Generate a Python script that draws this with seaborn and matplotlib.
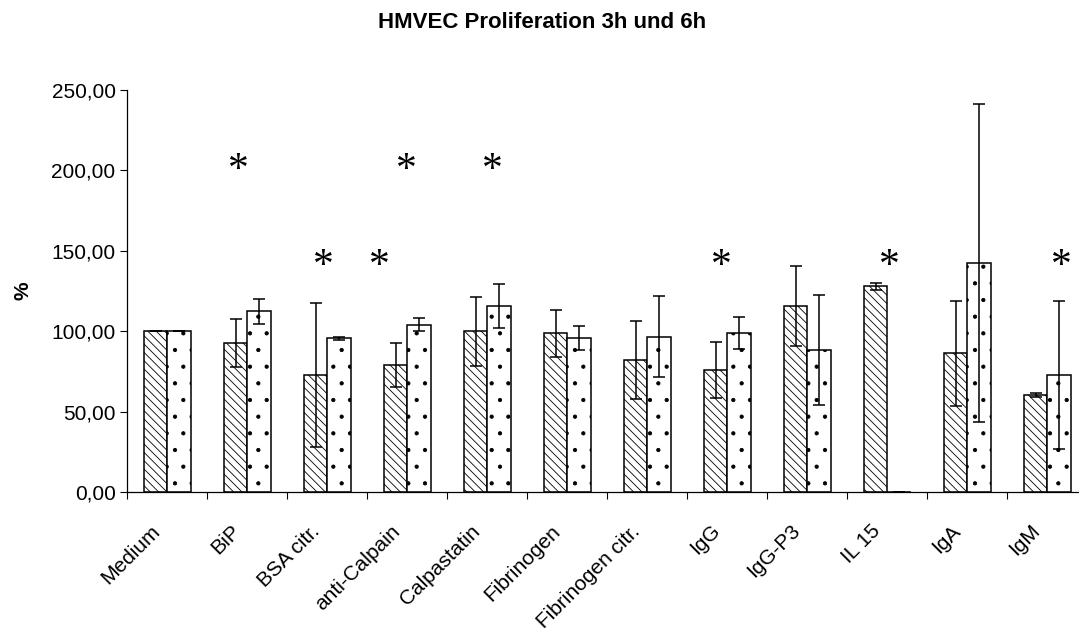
import numpy as np
import pandas as pd
import matplotlib
matplotlib.use("Agg")
import matplotlib.pyplot as plt
import matplotlib.transforms as mtransforms
import seaborn as sns
from matplotlib.ticker import FuncFormatter, FixedLocator

# Werte (% der Kontrolle)
gruppen = ["Medium", "BiP", "BSA citr.", "anti-Calpain", "Calpastatin", "Fibrinogen",
           "Fibrinogen citr.", "IgG", "IgG-P3", "IL 15", "IgA", "IgM"]
wert_3h = [100.0, 92.5, 72.7, 79.0, 100.0, 98.7, 82.1, 75.9, 115.5, 128.0, 86.2, 60.3]
sd_3h = [0.0, 15.0, 45.0, 13.4, 21.4, 14.6, 24.2, 17.4, 25.0, 2.1, 32.8, 1.0]
wert_6h = [100.0, 112.4, 95.6, 104.0, 115.5, 95.6, 96.6, 98.7, 88.3, 0.0, 142.6, 72.8]
sd_6h = [0.0, 7.9, 1.0, 4.0, 13.8, 7.4, 25.0, 9.9, 34.0, 0.0, 98.9, 46.0]

# Signifikanz-Sterne (x in Kategorie-Einheiten, y in %)
stern_x = [0.89, 1.95, 2.65, 2.99, 4.06, 6.93, 9.03, 11.17]
stern_y = [200, 140, 140, 200, 200, 140, 140, 140]

df = pd.DataFrame({
    "Gruppe": gruppen * 2,
    "Zeit": ["3h"] * len(gruppen) + ["6h"] * len(gruppen),
    "Wert": wert_3h + wert_6h,
})

sns.set_style("white")
plt.rcParams["font.family"] = ["Liberation Sans", "DejaVu Sans"]
plt.rcParams["text.color"] = "black"
plt.rcParams["axes.labelcolor"] = "black"
plt.rcParams["xtick.color"] = "black"
plt.rcParams["ytick.color"] = "black"
plt.rcParams["hatch.linewidth"] = 0.6

fig = plt.figure(figsize=(10.79, 6.28), dpi=100)
ax = fig.add_axes([0.118, 0.2166, 0.8897, 0.640])

sns.barplot(data=df, x="Gruppe", y="Wert", hue="Zeit", hue_order=["3h", "6h"],
            order=gruppen, palette=["white", "white"], edgecolor="black",
            linewidth=1.1, width=0.59, saturation=1, errorbar=None,
            legend=False, ax=ax)

muster = ["\\\\\\\\", "."]
for container, h, vals, errs in zip(ax.containers, muster, [wert_3h, wert_6h], [sd_3h, sd_6h]):
    mitten = []
    for bar in container:
        bar.set_hatch(h)
        mitten.append(bar.get_x() + bar.get_width() / 2)
    ax.errorbar(mitten, vals, yerr=errs, fmt="none", ecolor="black",
                elinewidth=1.1, capsize=4.5, capthick=1.1, zorder=5)

for x, y in zip(stern_x, stern_y):
    ax.text(x, y, "*", ha="center", va="center", fontsize=30,
            family=["Liberation Serif", "DejaVu Serif"])

ax.set_xlim(-0.5, 11.5)
ax.set_ylim(0, 250)
ax.set_yticks(np.arange(0, 251, 50))
ax.yaxis.set_major_formatter(FuncFormatter(lambda v, p: f"{v:.2f}".replace(".", ",")))
ax.tick_params(axis="y", direction="out", length=5, width=0.8, labelsize=15, left=True)

ax.set_xticks(range(len(gruppen)))
ax.set_xticklabels(gruppen, rotation=45, ha="right", va="center", rotation_mode="anchor")
ax.tick_params(axis="x", which="major", length=0, labelsize=15, pad=26)
ax.xaxis.set_minor_locator(FixedLocator(np.arange(-0.5, 12, 1)))
ax.tick_params(axis="x", which="minor", direction="out", length=5, width=0.8, bottom=True)

versatz = mtransforms.ScaledTranslation(-10 / 100, 0, fig.dpi_scale_trans)
for lbl in ax.get_xticklabels():
    lbl.set_transform(lbl.get_transform() + versatz)

sns.despine(ax=ax)
for s in ["left", "bottom"]:
    ax.spines[s].set_color("black")
    ax.spines[s].set_linewidth(0.9)

ax.set_xlabel("")
ax.set_ylabel("%", fontsize=15, fontweight="bold")
ax.yaxis.set_label_coords(-0.099, 0.5)

fig.text(542 / 1079, 1 - 22 / 628, "HMVEC Proliferation 3h und 6h",
         ha="center", va="center", fontsize=16, fontweight="bold")

fig.savefig("out.png", dpi=100)
